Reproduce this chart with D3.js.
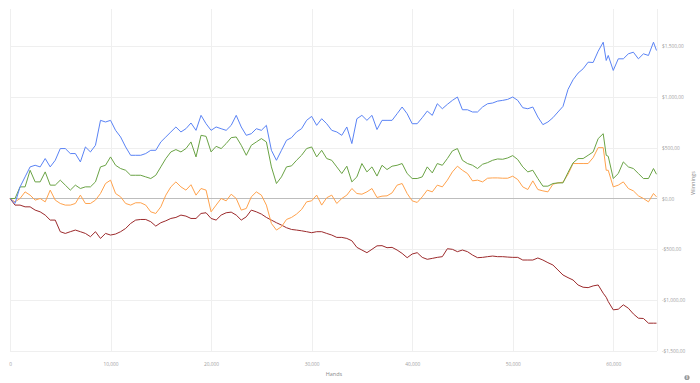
<!DOCTYPE html>
<meta charset="utf-8">
<head>
	<title>Winnings</title>
	<style>
		body { margin: 0; background: #fff; font-family: "Open Sans", sans-serif; }
		.grid line { stroke: #efefef; stroke-width: 1; shape-rendering: crispEdges; }
		.tick text { fill: #a0a0a0; font-size: 4.8px; }
		.axisTitle { fill: #8a8a8a; font-size: 5.5px; }
		.series { fill: none; stroke-width: 1; stroke-linejoin: round; }
	</style>
	<script src="https://d3js.org/d3.v7.min.js"></script>
</head>
<body>
<div id="chart"></div>
<script>
	// hands played (x)
	const hands = [
		0, 500, 1000, 1500, 2000, 2500, 3000, 3500, 4000, 4500, 5000, 5500, 6000, 6500, 7000, 7500, 8000, 8500,
		9000, 9500, 10000, 10500, 11000, 11500, 12000, 12500, 13000, 13500, 14000, 14500, 15000, 15500, 16000, 16500, 17000, 17500,
		18000, 18500, 19000, 19500, 20000, 20500, 21000, 21500, 22000, 22500, 23000, 23500, 24000, 24500, 25000, 25500, 26000, 26500, 27000,
		27500, 28000, 28500, 29000, 29500, 30000, 30500, 31000, 31500, 32000, 32500, 33000, 33500, 34000, 34500, 35000, 35500, 36000, 36500,
		37000, 37500, 38000, 38500, 39000, 39500, 40000, 40500, 41000, 41500, 42000, 42500, 43000, 43500, 44000, 44500, 45000, 45500,
		46000, 46500, 47000, 47500, 48000, 48500, 49000, 49500, 50000, 50500, 51000, 51500, 52000, 52500, 53000, 53500, 54000, 54500, 55000,
		55500, 56000, 56500, 57000, 57500, 58000, 58500, 59000, 59300, 59500, 60000, 60500, 61000, 61500, 62000, 62500, 63000, 63500, 64000, 64300
	];

	const blueWinnings = [
		0, -49, 114, 212, 310, 326, 310, 392, 310, 375, 490, 490, 441, 441, 359, 506, 457, 522,
		767, 751, 767, 669, 604, 506, 424, 424, 424, 441, 473, 473, 555, 604, 653, 702, 653, 685,
		741, 669, 816, 734, 669, 702, 685, 669, 718, 816, 702, 620, 636, 685, 669, 718, 473, 375, 473,
		571, 597, 653, 685, 767, 806, 718, 783, 734, 669, 653, 620, 702, 539, 783, 816, 767, 816, 677,
		767, 767, 767, 832, 898, 832, 734, 734, 793, 858, 816, 930, 881, 924, 963, 996, 871, 871,
		849, 849, 898, 930, 937, 956, 963, 973, 996, 963, 891, 881, 898, 800, 725, 751, 793, 849, 904,
		1071, 1165, 1231, 1273, 1338, 1335, 1446, 1534, 1355, 1404, 1257, 1371, 1371, 1420, 1436, 1371, 1420, 1404, 1534, 1453
	];

	const greenWinnings = [
		0, 0, 114, 114, 277, 163, 163, 261, 131, 131, 180, 131, 82, 131, 98, 114, 114, 163,
		310, 326, 408, 326, 294, 277, 228, 228, 228, 212, 196, 228, 310, 392, 457, 480, 457, 490,
		555, 408, 620, 610, 457, 512, 490, 539, 597, 604, 522, 424, 522, 555, 588, 555, 310, 147, 212,
		310, 320, 375, 424, 490, 506, 408, 473, 392, 375, 310, 245, 317, 163, 212, 343, 261, 310, 220,
		326, 284, 317, 326, 343, 245, 196, 196, 212, 310, 251, 343, 326, 392, 467, 490, 375, 343,
		326, 294, 336, 352, 375, 388, 385, 398, 421, 382, 310, 261, 277, 196, 121, 121, 147, 153, 153,
		255, 349, 392, 392, 424, 457, 588, 636, 424, 414, 196, 245, 359, 310, 294, 245, 196, 196, 294, 238
	];

	const orangeWinnings = [
		0, -33, 0, 65, 33, -16, 0, -33, 82, -16, -49, -65, -65, -49, 33, -49, -49, -16,
		49, 147, 180, 49, 16, -49, -65, -42, -42, -65, -131, -147, -82, 33, 114, 163, 114, 82,
		135, 33, 98, 82, -131, -65, 0, -23, 42, 0, -114, -98, 16, 65, 33, -65, -245, -310, -277,
		-206, -186, -153, -108, -33, -23, 33, -65, 7, 33, -49, 0, 33, 98, 49, 42, 65, 98, 10,
		23, 26, 55, 131, 147, 49, -23, -39, 16, 82, 65, 131, 114, 180, 261, 317, 277, 245,
		173, 180, 163, 199, 202, 202, 199, 199, 219, 186, 114, 88, 173, 88, 75, 65, 140, 153, 160,
		238, 343, 343, 343, 343, 401, 499, 499, 277, 277, 114, 131, 163, 98, 75, 26, 0, -33, 49, 16
	];

	const redWinnings = [
		0, -65, -65, -82, -82, -114, -131, -163, -212, -212, -326, -343, -326, -310, -326, -343, -375, -326,
		-392, -343, -359, -349, -326, -294, -245, -212, -206, -206, -228, -271, -238, -219, -196, -186, -163, -173,
		-196, -196, -147, -140, -196, -212, -163, -140, -134, -163, -212, -180, -114, -131, -153, -186, -212, -238, -261,
		-287, -304, -310, -317, -326, -336, -326, -326, -343, -359, -382, -382, -392, -415, -480, -506, -532, -499, -465,
		-463, -483, -480, -506, -539, -581, -545, -532, -578, -597, -588, -578, -571, -493, -499, -522, -506, -522,
		-555, -581, -578, -571, -565, -571, -571, -575, -578, -578, -604, -604, -604, -584, -604, -630, -653, -702, -751,
		-777, -800, -849, -871, -875, -858, -849, -930, -970, -1012, -1093, -1087, -1044, -1077, -1133, -1175, -1178, -1224, -1224, -1224
	];

	const seriesColors = ['#5a83f5', '#6aa345', '#ffa24c', '#9c2a2c'];
	const xTicks = [0, 10000, 20000, 30000, 40000, 50000, 60000];
	const yTicks = [-1500, -1000, -500, 0, 500, 1000, 1500];

	const W = 700, H = 383;
	const plotLeft = 10, plotRight = 657, plotTop = 9, plotBottom = 351.3;

	const svg = d3.select('#chart').append('svg').attr('width', W).attr('height', H);

	const x = d3.scaleLinear().domain([0, 64350]).range([plotLeft, plotRight]);
	const y = d3.scaleLinear().domain([-1500, 1860]).range([plotBottom, plotTop]);

	// grid
	const grid = svg.append('g').attr('class', 'grid');
	grid.selectAll('.h').data(yTicks).join('line').attr('class', 'h')
		.attr('x1', plotLeft).attr('x2', plotRight).attr('y1', d => Math.round(y(d)) + 0.5).attr('y2', d => Math.round(y(d)) + 0.5);
	grid.selectAll('.v').data(xTicks).join('line').attr('class', 'v')
		.attr('y1', plotTop).attr('y2', plotBottom).attr('x1', d => Math.round(x(d)) + 0.5).attr('x2', d => Math.round(x(d)) + 0.5);
	grid.append('line').attr('x1', plotRight + 0.5).attr('x2', plotRight + 0.5).attr('y1', plotTop).attr('y2', plotBottom);

	// zero line
	svg.append('line').attr('x1', plotLeft).attr('x2', plotRight)
		.attr('y1', Math.round(y(0)) + 0.5).attr('y2', Math.round(y(0)) + 0.5)
		.attr('stroke', '#bdbdbd').attr('stroke-width', 1);

	// axes
	const money = d => (d < 0 ? '-' : '') + '$' + d3.format(',')(Math.abs(d)) + ',00';

	svg.append('g').attr('transform', `translate(0,${plotBottom})`)
		.call(d3.axisBottom(x).tickValues(xTicks).tickFormat(d3.format(',')).tickSize(0).tickPadding(11))
		.call(g => g.select('.domain').remove());

	svg.append('g').attr('transform', `translate(${plotRight},0)`)
		.call(d3.axisRight(y).tickValues(yTicks).tickFormat(money).tickSize(0).tickPadding(5))
		.call(g => g.select('.domain').remove());

	svg.selectAll('.tick text').attr('font-family', '"Open Sans", sans-serif');

	svg.append('text').attr('class', 'axisTitle').attr('x', 334).attr('y', 376)
		.attr('text-anchor', 'middle').text('Hands');
	svg.append('text').attr('class', 'axisTitle')
		.attr('transform', 'translate(695,183) rotate(-90)')
		.attr('text-anchor', 'middle').text('Winnings');

	// info icon
	const info = svg.append('g').attr('transform', 'translate(687,377.5)');
	info.append('circle').attr('r', 2.6).attr('fill', '#9a9a9a');
	info.append('text').attr('y', 1.6).attr('text-anchor', 'middle')
		.attr('font-size', '4.5px').attr('font-weight', 'bold').attr('fill', '#fff').text('i');

	// lines
	const line = d3.line().x((d, i) => x(hands[i])).y(d => y(d));
	const allSeries = [blueWinnings, greenWinnings, orangeWinnings, redWinnings];
	const drawOrder = [3, 2, 1, 0];

	svg.append('g').selectAll('path').data(drawOrder).join('path')
		.attr('class', 'series')
		.attr('stroke', i => seriesColors[i])
		.attr('d', i => line(allSeries[i]));
</script>
</body>
